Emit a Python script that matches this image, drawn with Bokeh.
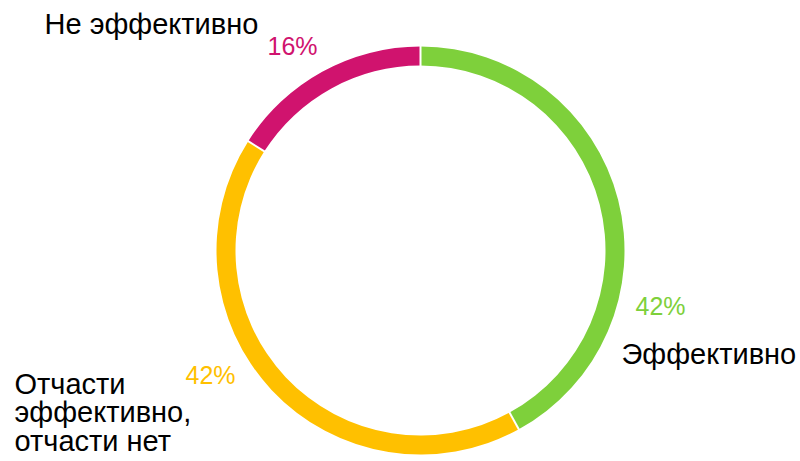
import math
from bokeh.plotting import figure
from bokeh.models import Range1d, ColumnDataSource
from bokeh.core.properties import value
from bokeh.embed import file_html
from bokeh.resources import INLINE

# ---- data ----
categories = ["Эффективно", "Отчасти\nэффективно,\nотчасти нет", "Не эффективно"]
shares = [42, 42, 16]
pct_labels = ["42%", "42%", "16%"]
colors = ["#7ed03b", "#ffc000", "#d0136e"]

# ---- layout (pixels inside the figure; y up) ----
W, H = 800, 461
CX, CY = 420, 211
R_OUT, R_IN = 204, 185
label_pos = [(621, 108), (14, 78), (44, 438)]     # category label anchors (left, baseline)
pct_pos = [(635, 156), (185, 87), (267, 416)]     # percentage anchors (left, baseline)
LABEL_SIZE, PCT_SIZE, LINE_H = 29, 25, 28.5
FONT = "Liberation Sans"

p = figure(width=W, height=H, x_range=Range1d(0, W), y_range=Range1d(0, H),
           output_backend="svg", toolbar_location=None, min_border=0,
           x_axis_location=None, y_axis_location=None)
p.grid.visible = False
p.outline_line_color = None
p.background_fill_color = "white"
p.border_fill_color = "white"

total = float(sum(shares))
starts, ends = [], []
cum = 0.0
for s in shares:
    a0 = math.pi / 2 - 2 * math.pi * cum / total
    cum += s
    a1 = math.pi / 2 - 2 * math.pi * cum / total
    starts.append(a0)
    ends.append(a1)

src = ColumnDataSource(dict(start=starts, end=ends, color=colors))
p.annular_wedge(x=CX, y=CY, inner_radius=R_IN, outer_radius=R_OUT,
                start_angle="start", end_angle="end", direction="clock",
                fill_color="color", line_color=None, source=src)

# white separators at slice boundaries
sx0 = [CX + (R_IN - 2) * math.cos(a) for a in starts]
sy0 = [CY + (R_IN - 2) * math.sin(a) for a in starts]
sx1 = [CX + (R_OUT + 2) * math.cos(a) for a in starts]
sy1 = [CY + (R_OUT + 2) * math.sin(a) for a in starts]
p.segment(x0=sx0, y0=sy0, x1=sx1, y1=sy1, line_color="white", line_width=2)

# category labels (multi-line split)
lx, ly, lt = [], [], []
for cat, (x, y) in zip(categories, label_pos):
    for i, line in enumerate(cat.split("\n")):
        lx.append(x)
        ly.append(y - i * LINE_H)
        lt.append(line)
p.text(x=lx, y=ly, text=lt, text_font=value(FONT), text_font_size=f"{LABEL_SIZE}px",
       text_color="black", text_align="left", text_baseline="alphabetic")

# percentage labels
p.text(x=[q[0] for q in pct_pos], y=[q[1] for q in pct_pos], text=pct_labels,
       text_font=value(FONT), text_font_size=f"{PCT_SIZE}px", text_color=colors,
       text_align="left", text_baseline="alphabetic")

open("out.html", "w").write(file_html(p, INLINE))
